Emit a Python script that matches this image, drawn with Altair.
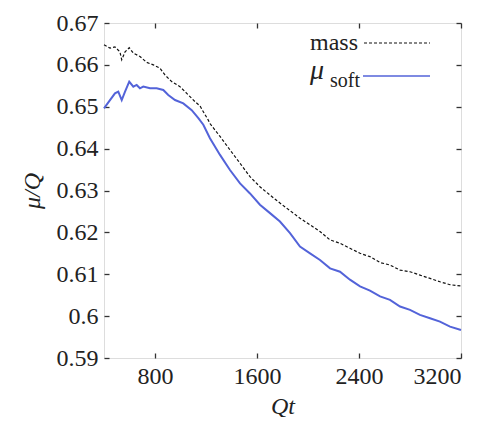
import altair as alt
import pandas as pd

# ---- data ----
mass_x = [400, 447, 486, 525, 539, 565, 598, 630, 682, 735, 787, 839, 878, 931, 996, 1049,
          1114, 1153, 1179, 1218, 1231, 1310, 1388, 1467, 1545, 1623, 1702, 1780, 1859, 1937,
          2016, 2094, 2173, 2251, 2329, 2408, 2486, 2565, 2643, 2722, 2800, 2878, 2957, 3035,
          3114, 3200]
mass_y = [0.6648, 0.6640, 0.6643, 0.6631, 0.6612, 0.6631, 0.6641, 0.6628, 0.6620, 0.6606,
          0.6600, 0.6592, 0.6576, 0.6560, 0.6548, 0.6532, 0.6512, 0.6502, 0.6488, 0.6468,
          0.6460, 0.6429, 0.6397, 0.6365, 0.6333, 0.6309, 0.6289, 0.6270, 0.6252, 0.6234,
          0.6218, 0.6202, 0.6182, 0.6174, 0.6162, 0.6150, 0.6142, 0.6128, 0.6122, 0.6110,
          0.6106, 0.6098, 0.6090, 0.6082, 0.6075, 0.6072]

soft_x = [400, 447, 486, 512, 539, 565, 598, 630, 656, 682, 708, 761, 813, 865, 904, 957,
          1022, 1088, 1140, 1179, 1231, 1310, 1388, 1467, 1545, 1623, 1702, 1780, 1859, 1937,
          2016, 2094, 2173, 2251, 2329, 2408, 2486, 2565, 2643, 2722, 2800, 2878, 2957, 3035,
          3114, 3200]
soft_y = [0.6496, 0.6516, 0.6532, 0.6536, 0.6516, 0.6536, 0.6560, 0.6548, 0.6552, 0.6544,
          0.6548, 0.6544, 0.6544, 0.6540, 0.6528, 0.6516, 0.6508, 0.6492, 0.6473, 0.6457,
          0.6425, 0.6385, 0.6349, 0.6317, 0.6293, 0.6266, 0.6246, 0.6226, 0.6198, 0.6166,
          0.6150, 0.6134, 0.6114, 0.6106, 0.6087, 0.6071, 0.6061, 0.6047, 0.6039, 0.6023,
          0.6015, 0.6003, 0.5995, 0.5987, 0.5975, 0.5967]

x_ticks = [800, 1600, 2400, 3200]
y_ticks = [0.59, 0.60, 0.61, 0.62, 0.63, 0.64, 0.65, 0.66, 0.67]

X_DOMAIN = [400, 3200]
Y_DOMAIN = [0.59, 0.67]

FONT = "Times New Roman, Times, Liberation Serif, Nimbus Roman, FreeSerif, Noto Serif, DejaVu Serif, serif"
BLUE = "#5363d9"
FRAME = "#333333"

mass_df = pd.DataFrame({"Qt": mass_x, "v": mass_y})
soft_df = pd.DataFrame({"Qt": soft_x, "v": soft_y})

W, H = 357, 335
TICK = 5

common_axis = dict(grid=False, domain=False, tickColor=FRAME, tickWidth=1.3, tickSize=TICK,
                   offset=-TICK, labelFont=FONT, labelFontSize=24, labelColor="#222222",
                   titleFont=FONT, titleFontSize=24, titleFontStyle="italic",
                   titleFontWeight="normal", titleColor="#222222")

mass_line = alt.Chart(mass_df).mark_line(color="#111111", strokeWidth=1.2,
                                         strokeDash=[3, 2]).encode(
    x=alt.X("Qt:Q", scale=alt.Scale(domain=X_DOMAIN, nice=False, zero=False),
            axis=alt.Axis(orient="bottom", values=x_ticks, format="d", title="Qt",
                          labelPadding=6, titlePadding=6, **common_axis)),
    y=alt.Y("v:Q", scale=alt.Scale(domain=Y_DOMAIN, nice=False, zero=False),
            axis=alt.Axis(orient="left", values=y_ticks, format=".2~f", title="μ/Q",
                          labelPadding=6, titlePadding=12, **common_axis)),
)

soft_line = alt.Chart(soft_df).mark_line(color=BLUE, strokeWidth=2).encode(
    x=alt.X("Qt:Q", scale=alt.Scale(domain=X_DOMAIN, nice=False, zero=False),
            axis=alt.Axis(orient="top", values=x_ticks, labels=False, title=None, **common_axis)),
    y=alt.Y("v:Q", scale=alt.Scale(domain=Y_DOMAIN, nice=False, zero=False),
            axis=alt.Axis(orient="right", values=y_ticks, labels=False, title=None, **common_axis)),
)

one = pd.DataFrame({"a": [0]})

leg_mass_text = alt.Chart(one).mark_text(text="mass", font=FONT, fontSize=24, align="right",
                                         baseline="alphabetic", color="#222222").encode(
    x=alt.value(254), y=alt.value(27))
leg_mass_rule = alt.Chart(one).mark_rule(color="#111111", strokeWidth=1.2,
                                         strokeDash=[3, 2]).encode(
    x=alt.value(260), x2=alt.value(326), y=alt.value(20))
leg_mu_text = alt.Chart(one).mark_text(text="μ", font=FONT, fontSize=28, fontStyle="italic",
                                       align="left", baseline="alphabetic",
                                       color="#222222").encode(
    x=alt.value(206), y=alt.value(56))
leg_soft_text = alt.Chart(one).mark_text(text="soft", font=FONT, fontSize=20, align="left",
                                         baseline="alphabetic", color="#222222").encode(
    x=alt.value(226), y=alt.value(64))
leg_soft_rule = alt.Chart(one).mark_rule(color=BLUE, strokeWidth=1.5).encode(
    x=alt.value(259), x2=alt.value(326), y=alt.value(53))

chart = alt.layer(
    mass_line, soft_line, leg_mass_text, leg_mass_rule, leg_mu_text, leg_soft_text, leg_soft_rule
).resolve_scale(x="independent", y="independent").properties(
    width=W, height=H,
    autosize=alt.AutoSizeParams(type="none"),
    padding={"left": 96, "top": 15, "right": 21, "bottom": 59},
).configure_view(stroke=FRAME, strokeWidth=1.6).configure(background="white")

chart.save("out.html", embed_options={"renderer": "svg", "actions": False})
